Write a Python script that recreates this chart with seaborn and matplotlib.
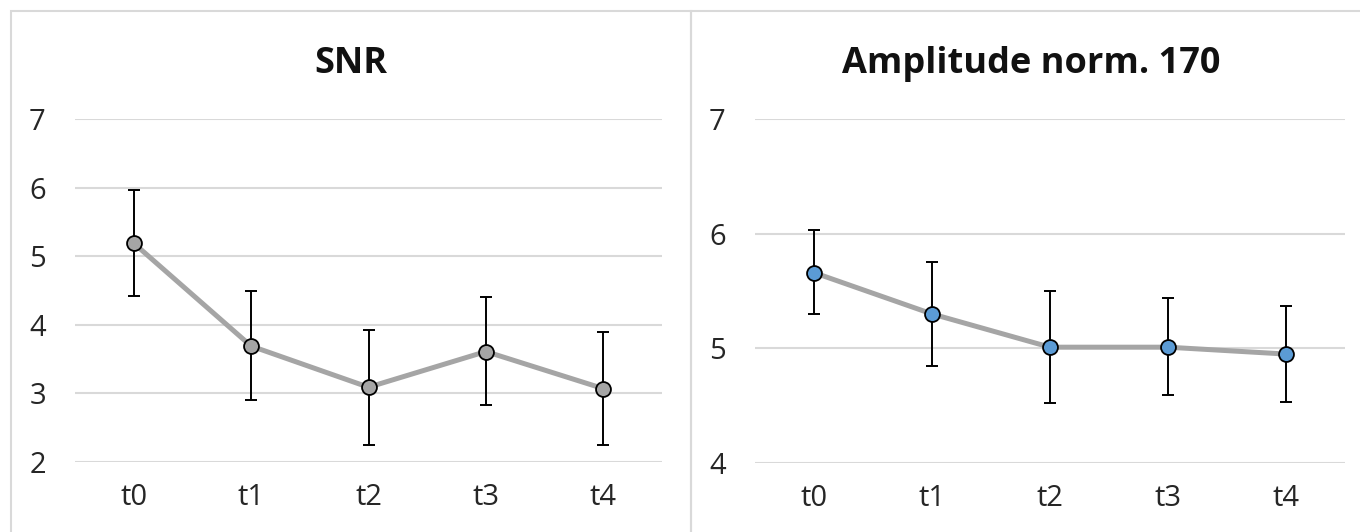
import numpy as np
import pandas as pd
import matplotlib
matplotlib.use('Agg')
import matplotlib.pyplot as plt
import seaborn as sns
from matplotlib.patches import Rectangle

# Data
times = ['t0', 't1', 't2', 't3', 't4']
snr_mean = [5.19, 3.69, 3.09, 3.61, 3.07]
snr_upper = [5.97, 4.49, 3.93, 4.41, 3.90]
snr_lower = [4.42, 2.90, 2.25, 2.83, 2.25]
amp_mean = [5.66, 5.30, 5.01, 5.01, 4.95]
amp_upper = [6.03, 5.75, 5.50, 5.44, 5.37]
amp_lower = [5.30, 4.85, 4.52, 4.59, 4.53]

sns.set_style('white')
plt.rcParams['font.family'] = ['Open Sans', 'DejaVu Sans']

W, H = 1360, 532
fig = plt.figure(figsize=(W / 100, H / 100), dpi=100)

# panel frames (each chart sits in its own light box)
panels = [(11, 680), (691, 680)]
for left, width in panels:
    fig.patches.append(Rectangle((left / W, -0.01), width / W, 1 - 11 / H + 0.01,
                                 transform=fig.transFigure, fill=False,
                                 edgecolor='#D9D9D9', linewidth=1.5))

ax1 = fig.add_axes([75 / W, 1 - 462 / H, 587 / W, 343 / H])
ax2 = fig.add_axes([755 / W, 1 - 463 / H, 590 / W, 344 / H])


def draw_panel(ax, mean, upper, lower, marker_color, title, ylim, yticks, panel):
    df = pd.DataFrame({'time': times, 'value': mean})
    x = np.arange(len(times))
    sns.lineplot(data=df, x='time', y='value', ax=ax, color='#A5A5A5',
                 linewidth=3.6, zorder=2, sort=False)
    yerr = [np.array(mean) - np.array(lower), np.array(upper) - np.array(mean)]
    ax.errorbar(x, mean, yerr=yerr, fmt='none', ecolor='black',
                elinewidth=1.4, capsize=4, capthick=1.4, zorder=3)
    sns.scatterplot(data=df, x='time', y='value', ax=ax, color=marker_color,
                    edgecolor='black', linewidth=1.3, s=115, zorder=4)
    ax.set_xlim(-0.5, len(times) - 0.5)
    ax.set_ylim(*ylim)
    ax.set_yticks(yticks)
    ax.set_xlabel('')
    ax.set_ylabel('')
    ax.grid(axis='y', color='#D9D9D9', linewidth=1.5)
    ax.set_axisbelow(True)
    for s in ax.spines.values():
        s.set_visible(False)
    ax.tick_params(axis='both', length=0, labelsize=21, labelcolor='#262626')
    ax.tick_params(axis='y', pad=21)
    ax.tick_params(axis='x', pad=15)
    # title centred on the whole panel box
    left, width = panel
    fig.text((left + width / 2) / W, 1 - 73 / H, title, fontsize=26,
             fontweight='bold', color='#111111', ha='center', va='baseline')


draw_panel(ax1, snr_mean, snr_upper, snr_lower, '#A5A5A5', 'SNR',
           (2, 7), [2, 3, 4, 5, 6, 7], panels[0])
draw_panel(ax2, amp_mean, amp_upper, amp_lower, '#5B9BD5', 'Amplitude norm. 170',
           (4, 7), [4, 5, 6, 7], panels[1])

fig.savefig('out.png', dpi=100)
